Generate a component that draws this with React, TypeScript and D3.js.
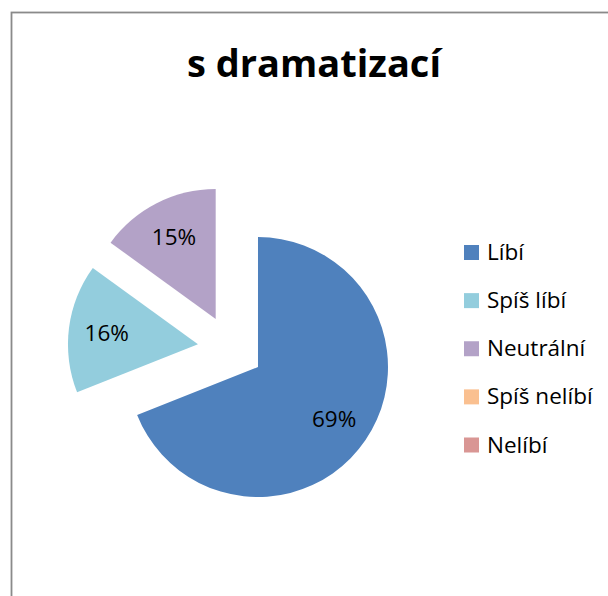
import React, { useEffect, useRef } from 'react';
import * as d3 from 'd3';

const categories = ['Líbí', 'Spíš líbí', 'Neutrální', 'Spíš nelíbí', 'Nelíbí'];
const values = [69, 16, 15, 0, 0];
const colors = ['#4F81BD', '#93CDDD', '#B3A2C7', '#FAC090', '#D99694'];
const title = 's dramatizací';

export default function App() {
  const svgRef = useRef<SVGSVGElement>(null);

  useEffect(() => {
    const w = 608;
    const h = 596;
    const svg = d3.select(svgRef.current)
      .attr('width', w)
      .attr('height', h);
    svg.selectAll('*').remove();

    // chart frame (runs past the right / bottom edge)
    svg.append('rect')
      .attr('x', 11.5)
      .attr('y', 12.5)
      .attr('width', 700)
      .attr('height', 700)
      .attr('fill', '#fff')
      .attr('stroke', '#8a8a8a')
      .attr('stroke-width', 1.8);

    svg.append('text')
      .attr('x', 314)
      .attr('y', 77)
      .attr('text-anchor', 'middle')
      .style('font-family', '"Open Sans"')
      .style('font-weight', 'bold')
      .style('font-size', '38px')
      .attr('fill', '#000')
      .text(title);

    const cx = 230.7;
    const cy = 348.5;
    const r = 130;
    const explode = 33;

    const pie = d3.pie<number>().sort(null).value(d => d);
    const arcs = pie(values);
    const arc = d3.arc<d3.PieArcDatum<number>>().innerRadius(0).outerRadius(r);
    const labelArc = d3.arc<d3.PieArcDatum<number>>().innerRadius(92 * 2).outerRadius(0);

    const g = svg.append('g').attr('transform', `translate(${cx},${cy})`);

    const slices = g.selectAll('g.slice')
      .data(arcs.filter(a => a.value > 0))
      .enter()
      .append('g')
      .attr('class', 'slice')
      .attr('transform', d => {
        const mid = (d.startAngle + d.endAngle) / 2;
        return `translate(${explode * Math.sin(mid)},${-explode * Math.cos(mid)})`;
      });

    slices.append('path')
      .attr('d', arc)
      .attr('fill', d => colors[d.index]);

    slices.append('text')
      .attr('transform', d => {
        const c = labelArc.centroid(d);
        return `translate(${c[0]},${c[1]})`;
      })
      .attr('text-anchor', 'middle')
      .attr('dy', '0.36em')
      .style('font-family', '"Open Sans"')
      .style('font-size', '22.5px')
      .attr('fill', '#000')
      .text(d => `${d.value}%`);

    // legend
    const legend = svg.append('g');
    const rowY = d3.scalePoint<string>()
      .domain(categories)
      .range([252.5, 445]);

    const rows = legend.selectAll('g')
      .data(categories)
      .enter()
      .append('g')
      .attr('transform', d => `translate(464,${rowY(d)})`);

    rows.append('rect')
      .attr('x', 0)
      .attr('y', -7.5)
      .attr('width', 15)
      .attr('height', 15)
      .attr('fill', (d, i) => colors[i]);

    rows.append('text')
      .attr('x', 23)
      .attr('y', 7.5)
      .style('font-family', '"Open Sans"')
      .style('font-size', '22.5px')
      .attr('fill', '#000')
      .text(d => d);
  }, []);

  return (
    <svg
      ref={svgRef}
      style={{ position: 'absolute', left: 0, top: 0, display: 'block' }}
    />
  );
}
